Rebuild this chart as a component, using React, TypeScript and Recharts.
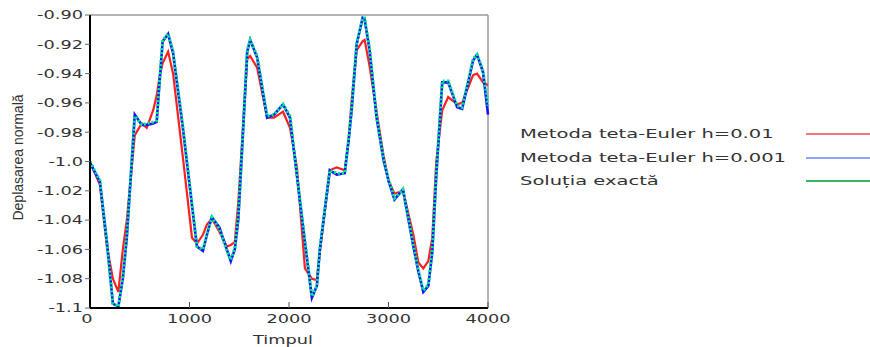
import { Label, Line, LineChart, ReferenceLine, XAxis, YAxis } from 'recharts';

const TIME = [
  0, 100, 170, 230, 285, 330, 370, 450, 520, 570, 635, 670, 700, 730, 785, 835, 935, 1025, 1075,
  1135, 1175, 1225, 1300, 1375, 1415, 1455, 1490, 1530, 1580, 1610, 1680, 1780, 1850, 1940, 2010,
  2080, 2160, 2230, 2280, 2310, 2410, 2480, 2560, 2600, 2630, 2680, 2740, 2760, 2810, 2880, 2950,
  3000, 3060, 3145, 3250, 3300, 3350, 3400, 3440, 3480, 3540, 3600, 3690, 3740, 3850, 3890, 3950,
  4000,
];

// Metoda teta-Euler h=0.01
const EULER_01 = [
  -1.0, -1.016, -1.058, -1.08, -1.089, -1.06, -1.04, -0.982, -0.974, -0.977, -0.965, -0.955,
  -0.942, -0.933, -0.925, -0.94, -0.998, -1.052, -1.056, -1.05, -1.043, -1.039, -1.048, -1.058,
  -1.057, -1.055, -1.028, -0.985, -0.93, -0.928, -0.936, -0.97, -0.97, -0.966, -0.977, -1.004,
  -1.073, -1.08, -1.081, -1.062, -1.006, -1.004, -1.006, -0.985, -0.958, -0.924, -0.918, -0.917,
  -0.935, -0.966, -0.996, -1.013, -1.022, -1.02, -1.05, -1.069, -1.073, -1.068, -1.052, -1.0,
  -0.965, -0.956, -0.961, -0.96, -0.941, -0.94, -0.946, -0.948,
];

// Metoda teta-Euler h=0.001
const EULER_001 = [
  -1.001, -1.014, -1.055, -1.097, -1.099, -1.08, -1.052, -0.968, -0.975, -0.975, -0.974, -0.973,
  -0.945, -0.918, -0.913, -0.926, -0.978, -1.03, -1.058, -1.061, -1.05, -1.038, -1.045, -1.06,
  -1.068, -1.06, -1.04, -0.99, -0.925, -0.917, -0.929, -0.97, -0.968, -0.961, -0.97, -1.01,
  -1.055, -1.093, -1.085, -1.06, -1.006, -1.009, -1.008, -0.985, -0.965, -0.92, -0.902, -0.903,
  -0.924, -0.97, -0.999, -1.013, -1.026, -1.019, -1.058, -1.075, -1.089, -1.085, -1.062, -1.01,
  -0.946, -0.946, -0.963, -0.964, -0.931, -0.927, -0.939, -0.968,
];

// Solutia exacta
const EXACT = [
  -1.0, -1.013, -1.056, -1.097, -1.099, -1.079, -1.05, -0.969, -0.975, -0.974, -0.973, -0.972,
  -0.944, -0.917, -0.913, -0.925, -0.977, -1.029, -1.058, -1.06, -1.049, -1.038, -1.046, -1.061,
  -1.067, -1.059, -1.038, -0.988, -0.924, -0.917, -0.928, -0.969, -0.968, -0.961, -0.969, -1.009,
  -1.054, -1.092, -1.085, -1.059, -1.006, -1.008, -1.008, -0.984, -0.963, -0.919, -0.902, -0.902,
  -0.923, -0.969, -0.998, -1.012, -1.025, -1.019, -1.057, -1.074, -1.088, -1.084, -1.06, -1.008,
  -0.945, -0.945, -0.962, -0.963, -0.93, -0.927, -0.938, -0.962,
];

const X_TICKS = [0, 1000, 2000, 3000, 4000];
const Y_TICKS = [-0.9, -0.92, -0.94, -0.96, -0.98, -1.0, -1.02, -1.04, -1.06, -1.08, -1.1];
const Y_TICK_LABELS = ['-0.90', '-0.92', '-0.94', '-0.96', '-0.98', '-1.0', '-1.02', '-1.04', '-1.06', '-1.08', '-1.1'];

const SERIES = [
  { key: 'euler01', name: 'Metoda teta-Euler h=0.01', color: '#ff1f1f', legend: '#f07878' },
  { key: 'euler001', name: 'Metoda teta-Euler h=0.001', color: '#1414ff', legend: '#90a4f5' },
  { key: 'exact', name: 'Soluția exactă', color: '#00ea8c', legend: '#3cb464' },
];

const rows = TIME.map((t, i) => ({
  t,
  euler01: EULER_01[i],
  euler001: EULER_001[i],
  exact: EXACT[i],
}));

const FONT = '"DejaVu Sans", Verdana, sans-serif';
const TEXT = '#333';
const STRETCH = 1.48;

function YTick({ x, y, payload }: any) {
  const idx = Y_TICKS.findIndex((v) => Math.abs(v - payload.value) < 1e-9);
  return (
    <text
      transform={`translate(${x},${y}) scale(${STRETCH},1)`}
      textAnchor="end"
      dy="0.36em"
      fontSize={12}
      fontFamily={FONT}
      fill={TEXT}
    >
      {Y_TICK_LABELS[idx]}
    </text>
  );
}

function XTick({ x, y, payload }: any) {
  return (
    <g>
      {payload.value > 0 && <line x1={x} x2={x} y1={y} y2={y - 6} stroke="#555" strokeWidth={1} />}
      <text
        transform={`translate(${payload.value === 0 ? x - 3 : x},${y + 14}) scale(${STRETCH},1)`}
        textAnchor="middle"
        dy="0.1em"
        fontSize={12}
        fontFamily={FONT}
        fill={TEXT}
      >
        {payload.value}
      </text>
    </g>
  );
}

function LegendBox() {
  return (
    <div style={{ position: 'absolute', left: 520, top: 122, width: 350, fontFamily: FONT }}>
      {SERIES.map((s) => (
        <div key={s.key} style={{ position: 'relative', height: 23.5 }}>
          <span
            style={{
              position: 'absolute',
              left: 0,
              top: 4,
              fontSize: 13,
              lineHeight: '16px',
              color: TEXT,
              whiteSpace: 'nowrap',
              transform: 'scale(1.5,1)',
              transformOrigin: 'left center',
            }}
          >
            {s.name}
          </span>
          <div
            style={{
              position: 'absolute',
              left: 286,
              top: 11,
              width: 64,
              height: 2,
              background: s.legend,
            }}
          />
        </div>
      ))}
    </div>
  );
}

export default function App() {
  return (
    <div style={{ position: 'absolute', left: 0, top: 0, width: 870, height: 347, background: '#fff' }}>
      <LineChart width={870} height={347} data={rows} margin={{ top: 15, right: 382, bottom: 14, left: 0 }}>
        <XAxis
          dataKey="t"
          type="number"
          domain={[0, 4000]}
          ticks={X_TICKS}
          height={25}
          tickSize={0}
          tickMargin={0}
          tick={<XTick />}
          axisLine={{ stroke: '#000', strokeWidth: 2 }}
        >
          <Label
            content={({ viewBox }: any) => (
              <text
                transform={`translate(${viewBox.x + viewBox.width / 2 - 6},${viewBox.y + 36}) scale(${STRETCH},1)`}
                textAnchor="middle"
                fontSize={12}
                fontFamily={FONT}
                fill={TEXT}
              >
                Timpul
              </text>
            )}
          />
        </XAxis>
        <YAxis
          type="number"
          domain={[-1.1, -0.9]}
          ticks={Y_TICKS}
          width={90}
          tickSize={5}
          tickMargin={2}
          tick={<YTick />}
          tickLine={{ stroke: '#666' }}
          axisLine={{ stroke: '#000', strokeWidth: 2 }}
          allowDataOverflow
        >
          <Label
            content={({ viewBox }: any) => (
              <text
                transform={`translate(23,${viewBox.y + viewBox.height / 2 - 4}) rotate(-90)`}
                textAnchor="middle"
                fontSize={14}
                fontFamily='"Liberation Sans Narrow", "Arial Narrow", "Liberation Sans", sans-serif'
                fill={TEXT}
              >
                Deplasarea normală
              </text>
            )}
          />
        </YAxis>
        <ReferenceLine y={-0.9} stroke="#9a9a9a" strokeWidth={1.5} />
        <ReferenceLine x={4000} stroke="#9a9a9a" strokeWidth={1.5} />
        <Line
          dataKey="euler01"
          name={SERIES[0].name}
          type="linear"
          stroke={SERIES[0].color}
          strokeWidth={2.2}
          dot={false}
          isAnimationActive={false}
        />
        <Line
          dataKey="euler001"
          name={SERIES[1].name}
          type="linear"
          stroke={SERIES[1].color}
          strokeWidth={2.6}
          dot={false}
          isAnimationActive={false}
        />
        <Line
          dataKey="exact"
          name={SERIES[2].name}
          type="linear"
          stroke={SERIES[2].color}
          strokeWidth={3}
          strokeDasharray="2 2"
          dot={false}
          isAnimationActive={false}
        />
      </LineChart>
      <LegendBox />
    </div>
  );
}
